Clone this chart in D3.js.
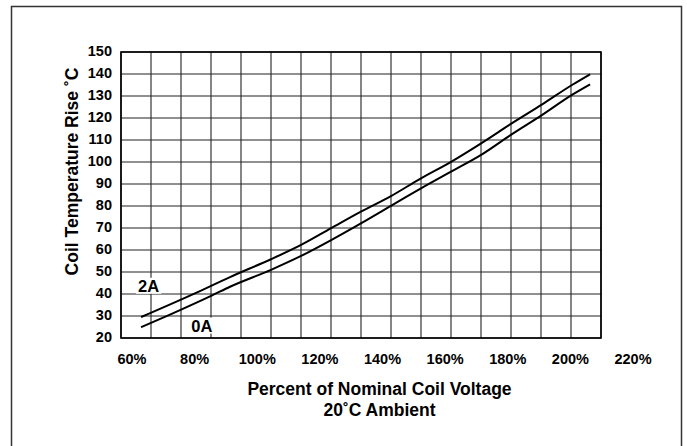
<!DOCTYPE html>
<html>
<head>
<meta charset="utf-8">
<script src="https://cdn.jsdelivr.net/npm/d3@7"></script>
<style>
  body { margin: 0; background: #fff; }
  text { font-family: "Liberation Sans", Arial, sans-serif; font-weight: bold; fill: #000; }
</style>
</head>
<body>
<svg class="chart" width="687" height="446"></svg>
<script>
// values
var xLabels = [60, 80, 100, 120, 140, 160, 180, 200, 220];
var yTicks = [20, 30, 40, 50, 60, 70, 80, 90, 100, 110, 120, 130, 140, 150];
var gridColumns = 16;

var voltage2A = [62.9, 79.2, 91.3, 104.4, 114.0, 123.6, 133.1, 142.7, 152.3, 161.9, 171.5, 181.0, 191.0, 200.5, 206.3];
var temp2A    = [29.5, 39.7, 47.7, 55.8, 62.3, 69.9, 77.4, 84.5, 92.6, 100.1, 108.5, 117.3, 126.2, 135.0, 139.9];

var voltage0A = [62.9, 71.4, 85.6, 91.3, 104.4, 114.0, 123.6, 133.1, 142.7, 152.3, 161.9, 171.5, 181.0, 191.0, 200.5, 206.3];
var temp0A    = [24.9, 30.2, 39.4, 43.3, 51.0, 57.3, 64.5, 72.1, 80.1, 88.0, 95.6, 103.2, 112.3, 121.4, 130.5, 135.3];

var svg = d3.select(".chart"),
    plot = {left: 121, right: 601, top: 52, bottom: 338};

// frame round the whole figure
svg.append("rect")
    .attr("x", 11.5).attr("y", 6.5)
    .attr("width", 670).attr("height", 460)
    .attr("fill", "none")
    .attr("stroke", "#333")
    .attr("stroke-width", 1.5);

var x = d3.scaleLinear().domain([60, 220]).range([132, 633]),
    y = d3.scaleLinear().domain([20, 150]).range([plot.bottom, plot.top]),
    col = d3.scaleLinear().domain([0, gridColumns]).range([plot.left, plot.right]);

var g = svg.append("g");

// grid
g.append("g").selectAll("line")
  .data(d3.range(gridColumns + 1))
  .enter().append("line")
    .attr("x1", function(d) { return col(d); })
    .attr("x2", function(d) { return col(d); })
    .attr("y1", plot.top).attr("y2", plot.bottom)
    .attr("stroke", "#222").attr("stroke-width", 1.1);

g.append("g").selectAll("line")
  .data(yTicks)
  .enter().append("line")
    .attr("x1", plot.left).attr("x2", plot.right)
    .attr("y1", function(d) { return y(d); })
    .attr("y2", function(d) { return y(d); })
    .attr("stroke", "#222").attr("stroke-width", 1.1);

g.append("rect")
    .attr("x", plot.left).attr("y", plot.top)
    .attr("width", plot.right - plot.left).attr("height", plot.bottom - plot.top)
    .attr("fill", "none").attr("stroke", "#000").attr("stroke-width", 1.6);

// y tick labels
g.append("g").selectAll("text")
  .data(yTicks)
  .enter().append("text")
    .attr("x", 112)
    .attr("y", function(d) { return y(d) - 1.5; })
    .attr("dy", "0.36em")
    .attr("text-anchor", "end")
    .style("font-size", "14.5px")
    .text(function(d) { return d; });

// x tick labels
g.append("g").selectAll("text")
  .data(xLabels)
  .enter().append("text")
    .attr("x", function(d) { return x(d); })
    .attr("y", 363.5)
    .attr("text-anchor", "middle")
    .style("font-size", "14.5px")
    .text(function(d) { return d + "%"; });

// curves
var line = d3.line()
    .curve(d3.curveMonotoneX)
    .x(function(d) { return x(d[0]); })
    .y(function(d) { return y(d[1]); });

var series = [
  {id: "2A", values: d3.zip(voltage2A, temp2A), label: [65.3, 41.0]},
  {id: "0A", values: d3.zip(voltage0A, temp0A), label: [82.3, 22.9]}
];

g.append("g").selectAll("path")
  .data(series)
  .enter().append("path")
    .attr("d", function(d) { return line(d.values); })
    .attr("fill", "none")
    .attr("stroke", "#000")
    .attr("stroke-width", 2);

// curve labels on a white patch
series.forEach(function(s) {
  var lg = g.append("g");
  var t = lg.append("text")
      .attr("x", x(s.label[0]))
      .attr("y", y(s.label[1]))
      .attr("text-anchor", "middle")
      .style("font-size", "16.5px")
      .text(s.id);
  var b = t.node().getBBox();
  lg.insert("rect", "text")
      .attr("x", b.x - 2).attr("y", b.y + 1)
      .attr("width", b.width + 4).attr("height", b.height - 2)
      .attr("fill", "#fff");
});

// axis titles
svg.append("text")
    .attr("transform", "translate(78,171.5) rotate(-90)")
    .attr("text-anchor", "middle")
    .style("font-size", "17.5px")
    .text("Coil Temperature Rise \u02DAC");

svg.append("text")
    .attr("x", 379.5).attr("y", 395)
    .attr("text-anchor", "middle")
    .style("font-size", "17.5px")
    .text("Percent of Nominal Coil Voltage");

svg.append("text")
    .attr("x", 379.5).attr("y", 416)
    .attr("text-anchor", "middle")
    .style("font-size", "17.5px")
    .text("20\u02DAC Ambient");
</script>
</body>
</html>
